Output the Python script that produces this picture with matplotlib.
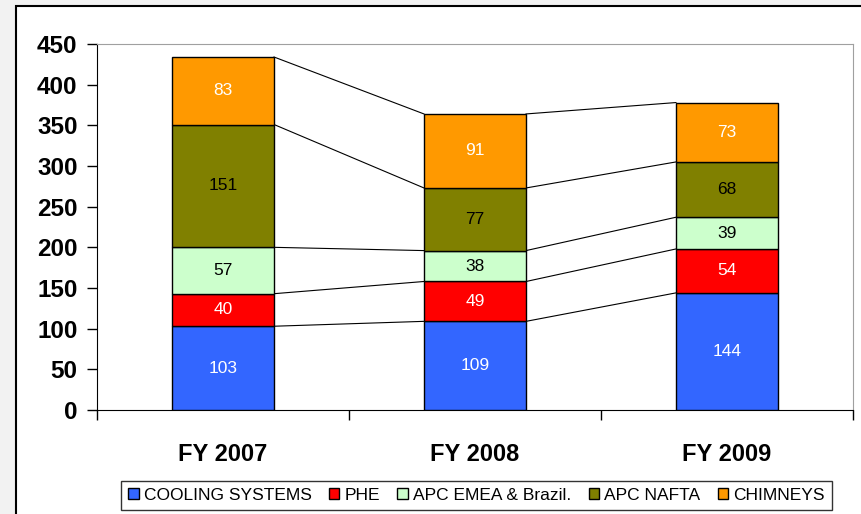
import numpy as np
import matplotlib.pyplot as plt
from matplotlib.patches import Rectangle

plt.rcParams['font.family'] = ['Liberation Sans', 'DejaVu Sans']

# Data
years = ["FY 2007", "FY 2008", "FY 2009"]
series_names = ["COOLING SYSTEMS", "PHE", "APC EMEA & Brazil.", "APC NAFTA", "CHIMNEYS"]
cooling = [103, 109, 144]
phe = [40, 49, 54]
apc_emea = [57, 38, 39]
apc_nafta = [151, 77, 68]
chimneys = [83, 91, 73]

colors = ["#3366FF", "#FF0000", "#CCFFCC", "#808000", "#FF9900"]
label_colors = ["white", "white", "black", "black", "white"]

fig = plt.figure(figsize=(8.62, 5.14), dpi=100)
fig.patch.set_facecolor("#F2F2F2")

# chart area frame (behind the axes)
frame = Rectangle((16 / 862, -0.1), 1.0, 1 - 6 / 514 + 0.1, transform=fig.transFigure,
                  facecolor="white", edgecolor="black", linewidth=1.5, zorder=-5)
fig.patches.append(frame)

ax = fig.add_axes([97 / 862, 1 - 410 / 514, (853 - 97) / 862, (410 - 44) / 514])
ax.set_zorder(2)
ax.set_facecolor("white")

x = np.arange(len(years))
width = 0.405
data = [cooling, phe, apc_emea, apc_nafta, chimneys]
bottom = np.zeros(len(years))
tops = []
for vals, name, col, lc in zip(data, series_names, colors, label_colors):
    vals = np.array(vals, dtype=float)
    ax.bar(x, vals, width, bottom=bottom, color=col, edgecolor="black",
           linewidth=1, label=name, zorder=3)
    for xi, b, v in zip(x, bottom, vals):
        ax.text(xi, b + v / 2, f"{int(v)}", ha="center", va="center",
                fontsize=12.5, color=lc, zorder=4)
    bottom = bottom + vals
    tops.append(bottom.copy())

# series connector lines
for level in tops:
    for i in range(len(years) - 1):
        ax.plot([x[i] + width / 2, x[i + 1] - width / 2], [level[i], level[i + 1]],
                color="black", linewidth=0.8, zorder=2)

ax.set_xlim(-0.5, 2.5)
ax.set_ylim(0, 450)
ax.set_yticks(np.arange(0, 451, 50))
ax.tick_params(axis="y", labelsize=17.5, length=7, width=1, direction="out", pad=7)
for t in ax.get_yticklabels():
    t.set_fontweight("bold")

ax.set_xticks(x)
ax.set_xticklabels(years, fontsize=17, fontweight="bold")
ax.tick_params(axis="x", length=0, pad=24)
ax.set_xticks([-0.5, 0.5, 1.5, 2.5], minor=True)
ax.tick_params(axis="x", which="minor", length=7, width=1, direction="out")

ax.spines["left"].set_color("black")
ax.spines["bottom"].set_color("black")
ax.spines["top"].set_color("#A0A0A0")
ax.spines["right"].set_color("#A0A0A0")

leg = ax.legend(loc="center", bbox_to_anchor=(476.5 / 862, 1 - 495.5 / 514),
                bbox_transform=fig.transFigure, ncol=5, fontsize=12.5, frameon=True,
                fancybox=False, edgecolor="black", handlelength=0.6, handleheight=0.6,
                handletextpad=0.3, columnspacing=1.0, borderpad=0.4)
leg.get_frame().set_linewidth(1)

fig.savefig("out.png", dpi=100, facecolor=fig.get_facecolor())
